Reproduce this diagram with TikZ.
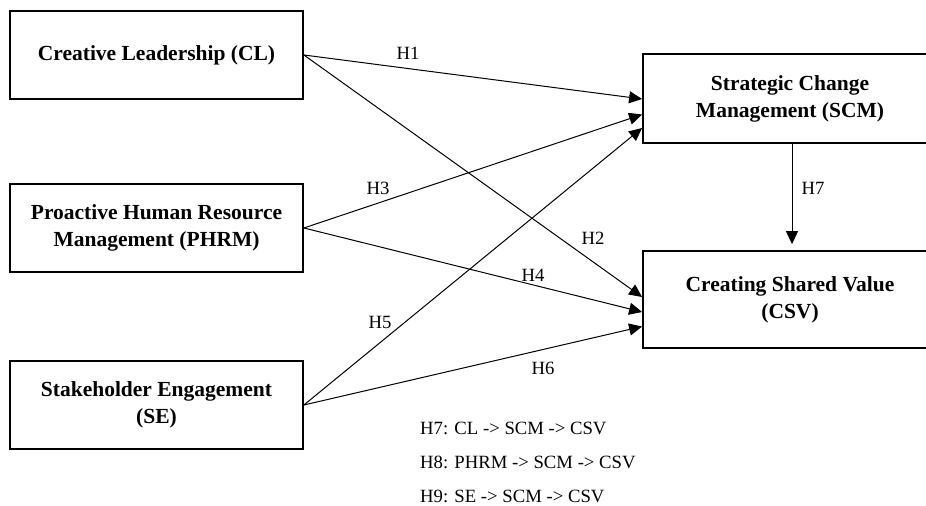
\documentclass[tikz,border=0pt]{standalone}
\usepackage{fontspec}
\setmainfont{Liberation Serif}
\usetikzlibrary{arrows.meta,positioning}

\tikzset{
    construct/.style={draw, line width=1.8bp, minimum width=293bp, align=center,
        font=\fontsize{21.5bp}{27bp}\selectfont\bfseries, inner sep=0pt},
    path/.style={line width=1bp, -{Triangle[length=13bp,width=12bp]}},
    hlabel/.style={font=\fontsize{18.7bp}{22bp}\selectfont, inner sep=0pt},
    legend/.style={font=\fontsize{18.7bp}{22bp}\selectfont, inner sep=0pt, anchor=west}
}

\begin{document}
\begin{tikzpicture}[x=1bp,y=1bp]
    \useasboundingbox (0,0) rectangle (926,506);
    % Constructs
    \node[construct, minimum height=88bp] (CL) at (156.5,451) {Creative Leadership (CL)};
    \node[construct, minimum height=88bp] (PHRM) at (156.5,278) {Proactive Human Resource\\Management (PHRM)};
    \node[construct, minimum height=88bp] (SE) at (156.5,101) {Stakeholder Engagement\\(SE)};
    \node[construct, minimum height=89bp, minimum width=294bp] (SCM) at (790,407.5) {Strategic Change\\Management (SCM)};
    \node[construct, minimum height=97bp, minimum width=294bp] (CSV) at (790,206.5) {Creating Shared Value\\(CSV)};
    % Paths
    \draw[path] (CL.east) -- ([yshift=-0.5bp]SCM.west);
    \draw[path] (CL.east) -- ([yshift=2.5bp]CSV.west);
    \draw[path] (PHRM.east) -- ([yshift=-16bp]SCM.west);
    \draw[path] (PHRM.east) -- ([yshift=-12.5bp]CSV.west);
    \draw[path] (SE.east) -- ([yshift=-29.5bp]SCM.west);
    \draw[path] (SE.east) -- ([yshift=-27bp]CSV.west);
    \draw[path, shorten >=6bp] ([xshift=2bp]SCM.south) -- ([xshift=2bp]CSV.north);
    % Hypothesis labels
    \node[hlabel] (h1) at (408,453) {H1};
    \node[hlabel] (h2) at (593,268) {H2};
    \node[hlabel] (h3) at (378,318) {H3};
    \node[hlabel] (h4) at (533,231) {H4};
    \node[hlabel] (h5) at (380,184) {H5};
    \node[hlabel] (h6) at (543,138) {H6};
    \node[hlabel] (h7) at (813,318) {H7};
    % Mediation legend
    \node[legend] (leg7) at (420,78) {H7: CL -> SCM -> CSV};
    \node[legend] (leg8) at (420,44) {H8: PHRM -> SCM -> CSV};
    \node[legend] (leg9) at (420,9.5) {H9: SE -> SCM -> CSV};
\end{tikzpicture}
\end{document}
